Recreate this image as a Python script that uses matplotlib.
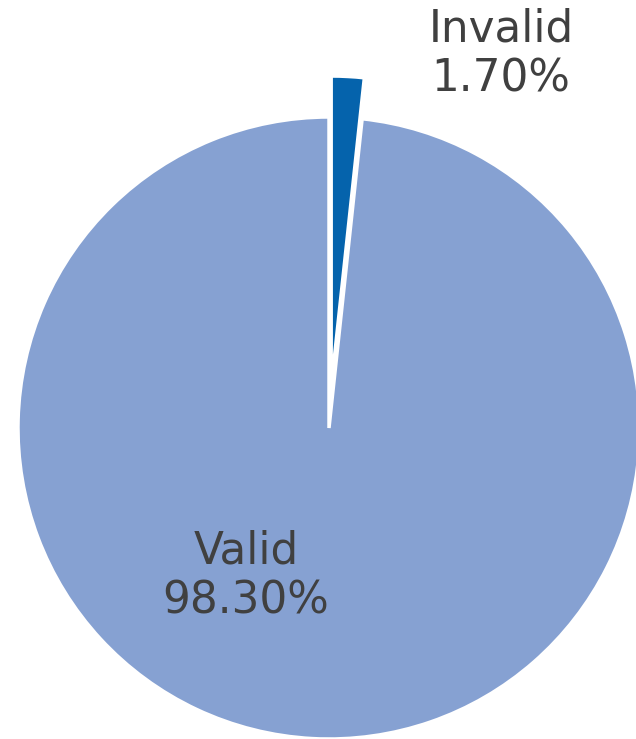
import matplotlib.pyplot as plt

categorias = ['Invalid', 'Valid']
percentuais = [1.70, 98.30]
cores = ['#0563AC', '#86A1D2']

fig = plt.figure(figsize=(6.36, 7.39), dpi=100)
ax = fig.add_axes([0, 0, 1, 1])

# pie em coordenadas de pixel: centro (329, 311), raio 311
# (explode aqui é absoluto, em pixels)
ax.pie(percentuais, colors=cores, startangle=90, counterclock=False,
       radius=311, center=(329, 311), explode=[41, 0],
       wedgeprops=dict(edgecolor='white', linewidth=2.5))

# rótulos
pos_rotulos = [(501, 685), (246, 163)]
for nome, valor, (x, y) in zip(categorias, percentuais, pos_rotulos):
    ax.text(x, y, f'{nome}\n{valor:.2f}%', ha='center', va='center',
            fontsize=31.5, color='#404040', linespacing=1.2,
            family='DejaVu Sans')

ax.set_xlim(0, 636)
ax.set_ylim(0, 739)
ax.set_aspect('auto')
ax.axis('off')

plt.savefig('out.png', dpi=100)
